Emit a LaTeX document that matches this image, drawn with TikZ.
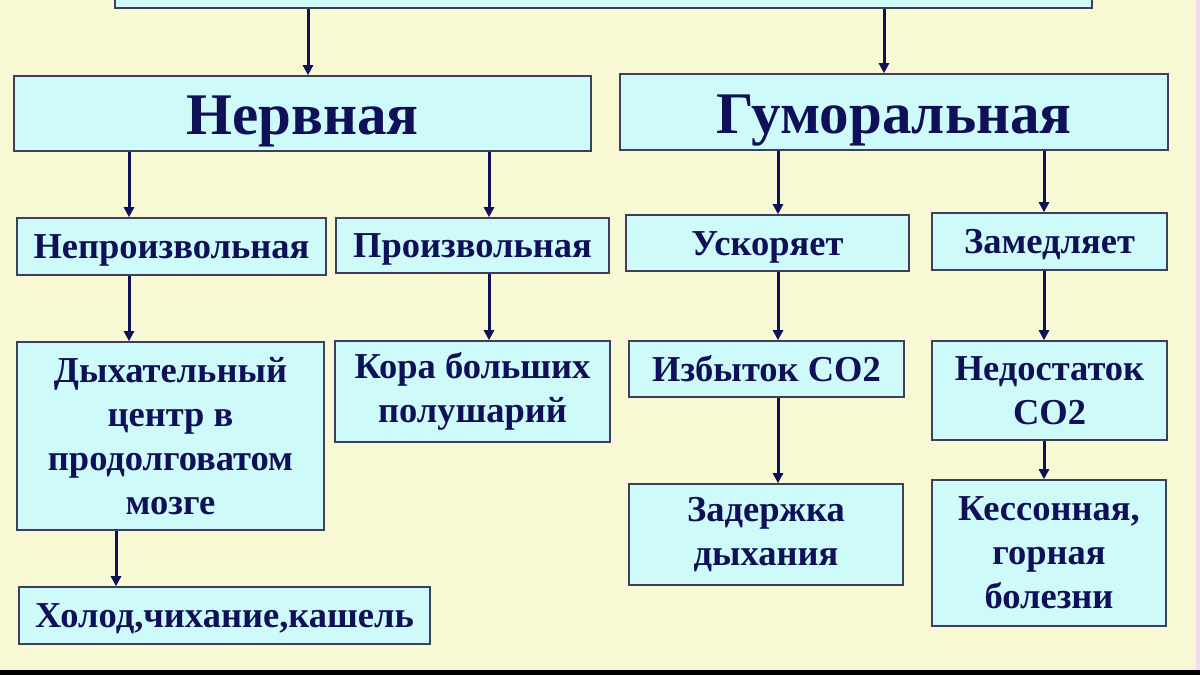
\documentclass[tikz,border=0pt]{standalone}
\usepackage{fontspec}
\setmainfont{Liberation Serif}
\usetikzlibrary{arrows.meta}
\definecolor{bg}{RGB}{248,248,212}
\definecolor{boxfill}{RGB}{206,250,250}
\definecolor{boxline}{RGB}{60,64,92}
\definecolor{navy}{RGB}{16,16,88}
\definecolor{edgepink}{RGB}{240,222,240}
\begin{document}
\begin{tikzpicture}[x=1pt,y=-1pt,
  base/.style={draw=boxline, line width=1.6pt, fill=boxfill, text=navy,
    font=\bfseries\fontsize{36.5}{44}\selectfont, inner sep=0pt},
  box/.style={base, align=center},
  oneline/.style={base, text height=24pt, text depth=0pt},
  bigbox/.style={base, font=\bfseries\fontsize{59}{64}\selectfont, text height=42.5pt, text depth=0pt},
  arr/.style={draw=navy, line width=3pt, -{Triangle[length=10pt,width=10pt]}}]
\useasboundingbox (0,0) rectangle (1200,675);
\clip (0,0) rectangle (1200,675);
\fill[bg] (0,0) rectangle (1200,675);
\fill[edgepink] (1196,0) rectangle (1200,675);
\fill[black] (0,670) rectangle (1200,675);

\node[base, minimum width=977pt, minimum height=56pt] (top) at (603.5,-20) {};
\node[bigbox, minimum width=577pt, minimum height=75pt] (N) at (302.5,113.5) {Нервная};
\node[bigbox, minimum width=548pt, minimum height=76pt] (G) at (894,112) {Гуморальная};

\node[oneline, minimum width=309pt, minimum height=57pt] (NP) at (171.5,246.5) {Непроизвольная};
\node[oneline, minimum width=273pt, minimum height=55pt] (P) at (472.5,245.5) {Произвольная};
\node[oneline, minimum width=283pt, minimum height=56pt] (U) at (767.5,243) {Ускоряет};
\node[oneline, minimum width=235pt, minimum height=57pt] (Z) at (1049.5,241.5) {Замедляет};

\node[box, minimum width=307pt, minimum height=188pt] (D) at (170.5,436) {Дыхательный\\центр в\\продолговатом\\мозге};
\node[box, minimum width=275pt, minimum height=101pt] (K) at (472.5,391.5) {Кора больших\\полушарий};
\node[oneline, minimum width=275pt, minimum height=56pt] (I) at (766.5,369) {Избыток CO2};
\node[box, minimum width=235pt, minimum height=99pt] (ND) at (1049.5,390.5) {Недостаток\\CO2};

\node[box, minimum width=274pt, minimum height=101pt] (ZD) at (766,534.5) {Задержка\\дыхания};
\node[box, minimum width=234pt, minimum height=146pt] (KS) at (1049,553) {Кессонная,\\горная\\болезни};
\node[oneline, minimum width=411pt, minimum height=57pt] (H) at (224.5,615.5) {Холод,чихание,кашель};

\coordinate (xa) at (308,0);
\coordinate (xb) at (884,0);
\coordinate (xc) at (129,0);
\coordinate (xd) at (489,0);
\coordinate (xe) at (778,0);
\coordinate (xf) at (1044,0);
\coordinate (xg) at (116,0);

\draw[arr] (top.south -| xa) -- (N.north -| xa);
\draw[arr] (top.south -| xb) -- (G.north -| xb);
\draw[arr] (N.south -| xc) -- (NP.north -| xc);
\draw[arr] (N.south -| xd) -- (P.north -| xd);
\draw[arr] (G.south -| xe) -- (U.north -| xe);
\draw[arr] (G.south -| xf) -- (Z.north -| xf);
\draw[arr] (NP.south -| xc) -- (D.north -| xc);
\draw[arr] (P.south -| xd) -- (K.north -| xd);
\draw[arr] (U.south -| xe) -- (I.north -| xe);
\draw[arr] (Z.south -| xf) -- (ND.north -| xf);
\draw[arr] (I.south -| xe) -- (ZD.north -| xe);
\draw[arr] (ND.south -| xf) -- (KS.north -| xf);
\draw[arr] (D.south -| xg) -- (H.north -| xg);
\end{tikzpicture}
\end{document}
